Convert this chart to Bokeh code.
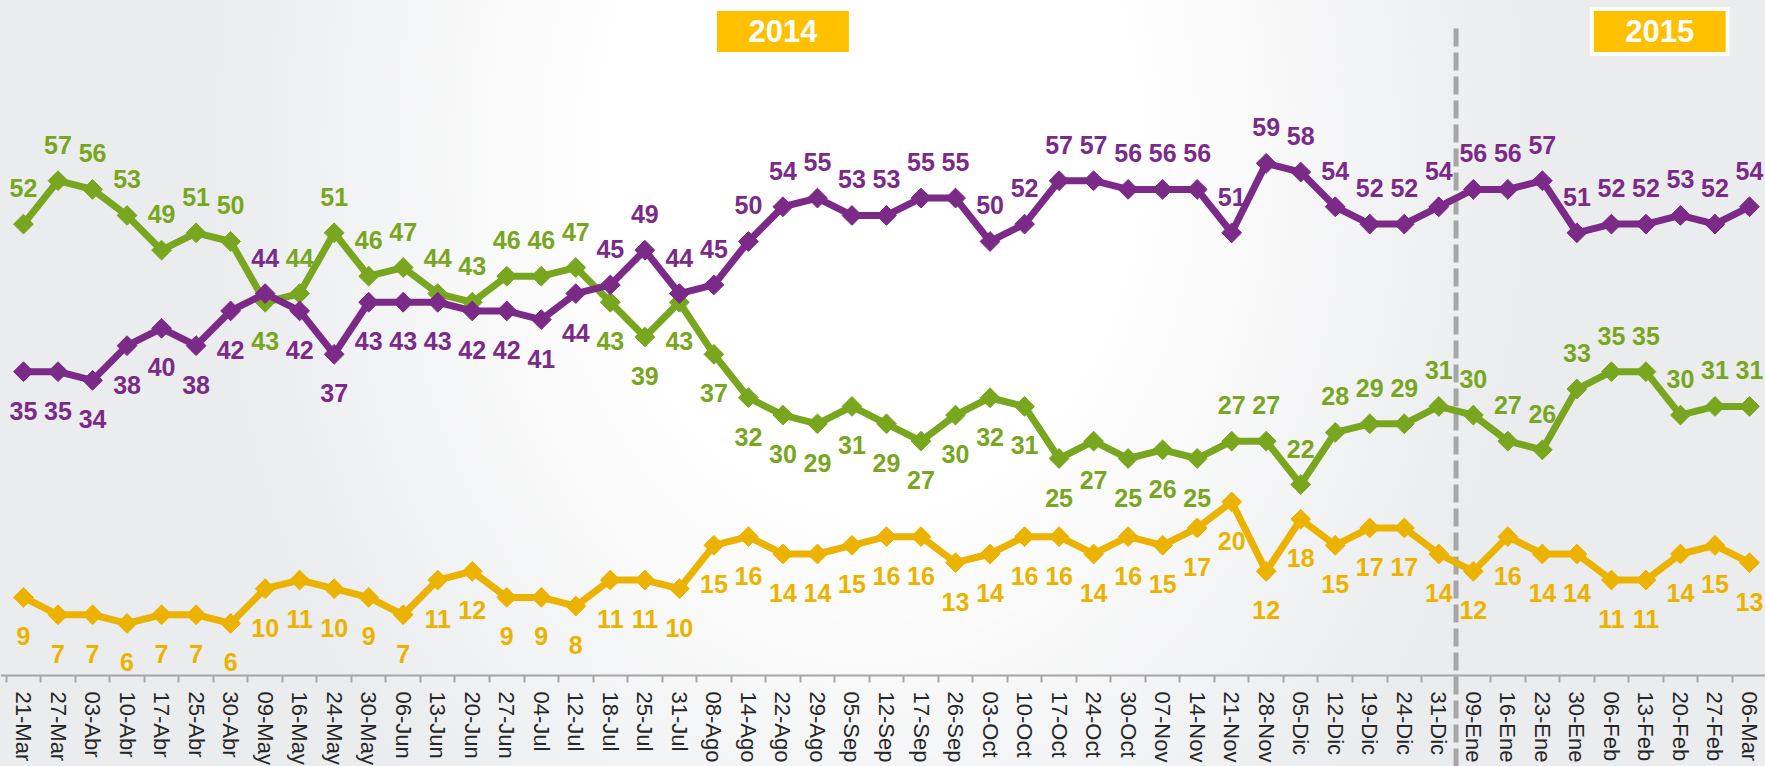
import math
from bokeh.plotting import figure
from bokeh.models import Range1d, FixedTicker, ColumnDataSource
from bokeh.core.properties import value
from bokeh.embed import file_html
from bokeh.resources import INLINE

# ---------------- data ----------------
dates = ["21-Mar", "27-Mar", "03-Abr", "10-Abr", "17-Abr", "25-Abr", "30-Abr",
         "09-May", "16-May", "24-May", "30-May", "06-Jun", "13-Jun", "20-Jun",
         "27-Jun", "04-Jul", "12-Jul", "18-Jul", "25-Jul", "31-Jul", "08-Ago",
         "14-Ago", "22-Ago", "29-Ago", "05-Sep", "12-Sep", "17-Sep", "26-Sep",
         "03-Oct", "10-Oct", "17-Oct", "24-Oct", "30-Oct", "07-Nov", "14-Nov",
         "21-Nov", "28-Nov", "05-Dic", "12-Dic", "19-Dic", "24-Dic", "31-Dic",
         "09-Ene", "16-Ene", "23-Ene", "30-Ene", "06-Feb", "13-Feb", "20-Feb",
         "27-Feb", "06-Mar"]

purple = [35, 35, 34, 38, 40, 38, 42, 44, 42, 37, 43, 43, 43, 42, 42, 41, 44,
          45, 49, 44, 45, 50, 54, 55, 53, 53, 55, 55, 50, 52, 57, 57, 56, 56,
          56, 51, 59, 58, 54, 52, 52, 54, 56, 56, 57, 51, 52, 52, 53, 52, 54]

green = [52, 57, 56, 53, 49, 51, 50, 43, 44, 51, 46, 47, 44, 43, 46, 46, 47,
         43, 39, 43, 37, 32, 30, 29, 31, 29, 27, 30, 32, 31, 25, 27, 25, 26,
         25, 27, 27, 22, 28, 29, 29, 31, 30, 27, 26, 33, 35, 35, 30, 31, 31]

yellow = [9, 7, 7, 6, 7, 7, 6, 10, 11, 10, 9, 7, 11, 12, 9, 9, 8, 11, 11, 10,
          15, 16, 14, 14, 15, 16, 16, 13, 14, 16, 16, 14, 16, 15, 17, 20, 12,
          18, 15, 17, 17, 14, 12, 16, 14, 14, 11, 11, 14, 15, 13]

years = ["2014", "2015"]

# ---------------- styles ----------------
PURPLE = "#7b2a88"
GREEN = "#78a61f"
YELLOW = "#ebb300"
GRAY = "#a6a6a6"
FONT = "Liberation Sans"

n = len(dates)
xs = list(range(n))

# label side: -1 above, +1 below (screen direction)
purple_side = [1 if (i < 17 and i != 7) else -1 for i in range(n)]
green_side = [(-1 if i != 7 else 1) if i < 17 else (1 if i < 35 else -1) for i in range(n)]
yellow_side = [1] * n

Y0 = -10.48
p = figure(width=1765, height=766, output_backend="svg", toolbar_location=None,
           x_range=Range1d(-0.666, 50.464), y_range=Range1d(Y0, 77.76),
           min_border_left=0, min_border_right=0, min_border_top=0,
           min_border_bottom=0, background_fill_color=None,
           border_fill_color=None, outline_line_color=None,
           y_axis_location=None)
p.styles = {"background": "radial-gradient(ellipse 820px 1100px at 870px 150px, "
                          "#ffffff 0%, #ffffff 32%, #ebecee 80%, #ebecee 100%)"}

p.xgrid.visible = False
p.ygrid.visible = False

ax = p.xaxis[0]
ax.fixed_location = 0
ax.ticker = FixedTicker(ticks=xs, minor_ticks=[i - 0.5 for i in range(n + 1)])
ax.major_label_overrides = {i: d for i, d in enumerate(dates)}
ax.major_label_orientation = "vertical"
ax.major_tick_out = 0
ax.major_tick_in = 0
ax.minor_tick_out = 7
ax.minor_tick_in = 0
ax.axis_line_color = GRAY
ax.axis_line_width = 2
ax.minor_tick_line_color = GRAY
ax.minor_tick_line_width = 2
ax.major_label_text_font = FONT
ax.major_label_text_font_size = "22px"
ax.major_label_text_color = "#262626"
ax.major_label_standoff = 9

# dashed year separator
p.segment(x0=[41.5], y0=[Y0], x1=[41.5], y1=[75.0], line_color=GRAY,
          line_width=5, line_dash="18 6")

def series(vals, side, color):
    src = ColumnDataSource(dict(x=xs, y=vals, t=[str(v) for v in vals],
                                off=[s * (36 if s < 0 else 39) for s in side]))
    p.line("x", "y", source=src, line_color=color, line_width=7)
    p.scatter("x", "y", source=src, marker="square", angle=math.pi / 4,
              size=14, fill_color=color, line_color=color)
    return src

srcs = [(series(yellow, yellow_side, YELLOW), YELLOW),
        (series(green, green_side, GREEN), GREEN),
        (series(purple, purple_side, PURPLE), PURPLE)]

for src, color in srcs:
    p.text("x", "y", text="t", source=src, y_offset="off",
           text_align="center", text_baseline="middle",
           text_font=value(FONT), text_font_style="bold",
           text_font_size="25px", text_color=color)

# year boxes
year_x = [22.0, 47.4]
p.rect(x=year_x, y=[74.2, 74.2], width=4.05, height=49, height_units="screen",
       fill_color="white", line_color=None)
p.rect(x=year_x, y=[74.2, 74.2], width=3.82, height=41, height_units="screen",
       fill_color="#ffc000", line_color=None)
p.text(x=year_x, y=[74.2, 74.2], text=years, text_align="center",
       text_baseline="middle", text_font=value(FONT), text_font_style="bold",
       text_font_size="31px", text_color="white")

open("out.html", "w").write(file_html(p, INLINE))
